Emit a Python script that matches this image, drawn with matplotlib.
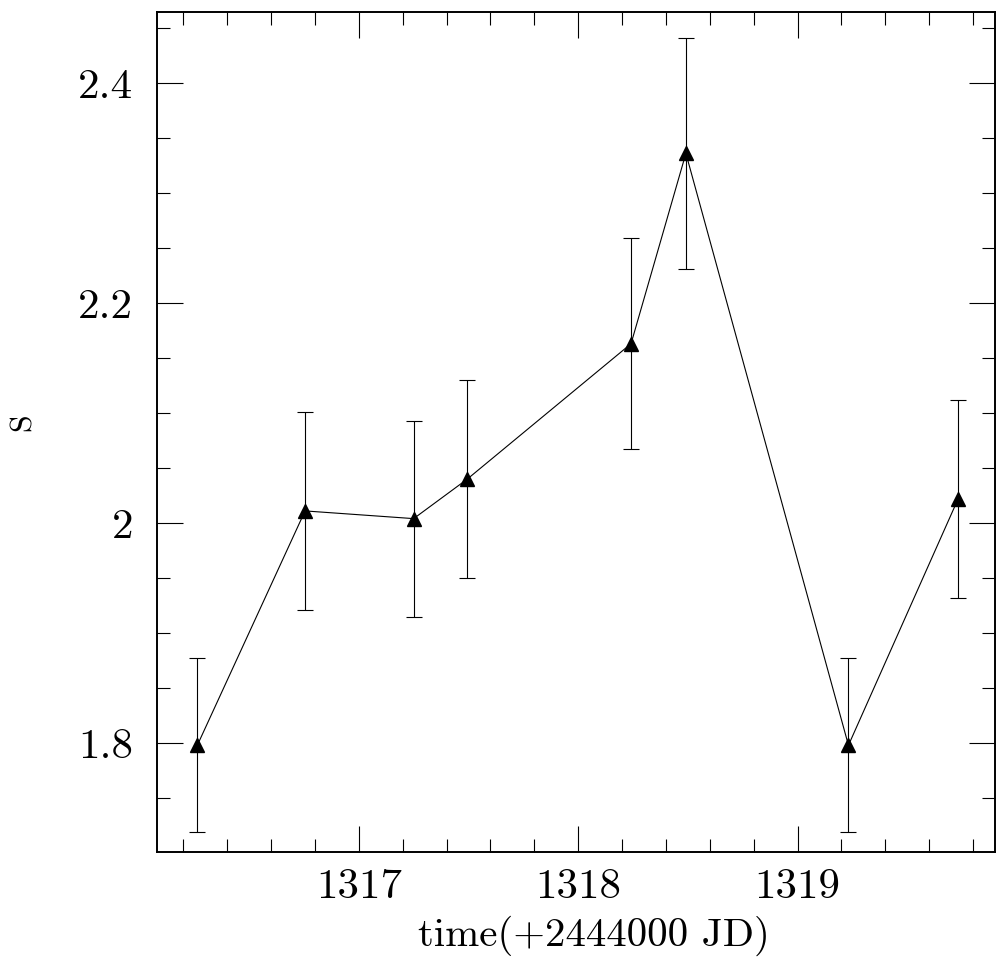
import numpy as np
import matplotlib
matplotlib.use("Agg")
import matplotlib.pyplot as plt
from matplotlib.ticker import MultipleLocator, FormatStrFormatter

plt.rcParams['font.family'] = ['cmr10', 'DejaVu Serif']
plt.rcParams['mathtext.fontset'] = 'cm'
plt.rcParams['axes.formatter.use_mathtext'] = True

# time (+2444000 JD), S value and its error
t = np.array([1316.264, 1316.755, 1317.25, 1317.495, 1318.241, 1318.491, 1319.232, 1319.732])
S = np.array([1.798, 2.011, 2.004, 2.040, 2.163, 2.336, 1.798, 2.022])
S_err = np.array([0.079, 0.090, 0.089, 0.090, 0.096, 0.105, 0.079, 0.090])

fig = plt.figure(figsize=(9.96, 9.59), dpi=100)
ax = fig.add_axes([0.1576, 0.1116, 0.8414, 0.8759])

ax.errorbar(t, S, yerr=S_err, fmt='none', ecolor='black', elinewidth=0.8,
            capsize=5.5, capthick=0.8)
ax.plot(t, S, '-', color='black', lw=0.8)
ax.plot(t, S, '^', color='black', ms=9.5, mec='black')

ax.set_xlim(1316.08, 1319.90)
ax.set_ylim(1.701, 2.4645)

ax.xaxis.set_major_locator(MultipleLocator(1))
ax.xaxis.set_minor_locator(MultipleLocator(0.2))
ax.yaxis.set_major_locator(MultipleLocator(0.2))
ax.yaxis.set_minor_locator(MultipleLocator(0.05))
ax.xaxis.set_major_formatter(FormatStrFormatter('%g'))
ax.yaxis.set_major_formatter(FormatStrFormatter('%g'))

ax.tick_params(which='both', direction='in', top=True, right=True, width=0.8, colors='black')
ax.tick_params(which='major', length=18.5, labelsize=31)
ax.tick_params(which='minor', length=9.3)
ax.tick_params(axis='y', which='major', pad=17)
ax.tick_params(axis='x', which='major', pad=12)
for sp in ax.spines.values():
    sp.set_linewidth(1.4)

ax.set_xlabel('time(+2444000 JD)', fontsize=29.5)
ax.set_ylabel('S', fontsize=23)
ax.xaxis.set_label_coords(0.521, -0.076)
ax.yaxis.set_label_coords(-0.143, 0.512)

fig.savefig('out.png', dpi=100)
